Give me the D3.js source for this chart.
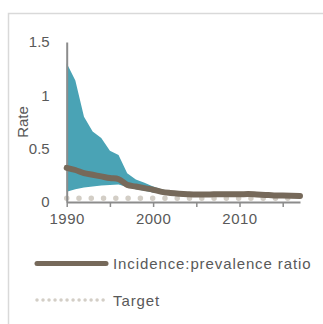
<!DOCTYPE html>
<html><head><meta charset="utf-8">
<script src="https://cdn.jsdelivr.net/npm/d3@7"></script>
<style>
html,body{margin:0;padding:0;background:#fff;}
svg{display:block;}
text{font-family:"Liberation Sans",Arial,sans-serif;fill:#595959;}
</style></head>
<body>
<svg id="c" width="323" height="324"></svg>
<script>
const years = d3.range(1990, 2018);
const ratio = [0.32,0.30,0.27,0.255,0.24,0.225,0.215,0.16,0.145,0.13,0.115,0.095,0.085,0.078,0.073,0.07,0.07,0.072,0.073,0.073,0.073,0.074,0.07,0.066,0.062,0.06,0.058,0.056];
const upper = [1.30,1.14,0.80,0.66,0.60,0.48,0.44,0.27,0.21,0.18,0.145,0.12,0.10,0.085,0.08,0.075,0.074,0.075,0.076,0.076,0.076,0.077,0.073,0.069,0.065,0.063,0.061,0.059];
const lower = [0.095,0.12,0.135,0.145,0.155,0.16,0.165,0.14,0.12,0.105,0.09,0.08,0.07,0.066,0.064,0.064,0.065,0.066,0.067,0.067,0.067,0.068,0.065,0.062,0.058,0.056,0.054,0.052];
const targetYears = d3.range(1990, 2017);
const targetVals = targetYears.map(() => 0.035);
const yTicks = [0, 0.5, 1, 1.5];
const xTickYears = [1990,1995,2000,2005,2010,2015];
const xLabelYears = [1990,2000,2010];
const seriesNames = ["Incidence:prevalence ratio", "Target"];

const svg = d3.select("#c");
svg.append("path").attr("d","M8.5,324 V13.5 H323").attr("fill","none").attr("stroke","#d9d9d9").attr("stroke-width",1.5);

const x = d3.scaleLinear().domain([1990, 2017]).range([66.7, 300]);
const y = d3.scaleLinear().domain([0, 1.5]).range([202, 42]);

const area = d3.area().x((d,i)=>x(years[i])).y0((d,i)=>y(lower[i])).y1((d,i)=>y(upper[i]));
svg.append("path").datum(upper).attr("d", area).attr("fill","#4aa3b5");

const tline = d3.line().x((d,i)=>x(targetYears[i])).y(d=>y(d));
svg.append("path").datum(targetVals).attr("d", tline).attr("fill","none")
  .attr("stroke","#d3cec6").attr("stroke-width",5.5).attr("stroke-linecap","round")
  .attr("stroke-dasharray","0.01 12.27");

const yAxis = d3.axisLeft(y).tickValues(yTicks).tickSize(0).tickPadding(17).tickFormat(d3.format("~g"));
const gy = svg.append("g").attr("transform","translate(66.7,0)").call(yAxis);
gy.select(".domain").attr("stroke","#8c8c8c").attr("stroke-width",2);
gy.selectAll("text").attr("font-size",15).style("font-family","'Liberation Sans',Arial,sans-serif").attr("fill","#595959");

const xAxis = d3.axisBottom(x).tickValues(xTickYears).tickSize(5).tickPadding(6)
  .tickFormat(d => xLabelYears.includes(d) ? d : "").tickSizeOuter(0);
const gx = svg.append("g").attr("transform","translate(0,202)").call(xAxis);
gx.select(".domain").attr("stroke","#8c8c8c").attr("stroke-width",2);
gx.selectAll(".tick line").attr("stroke","#8c8c8c").attr("stroke-width",1.5);
gx.selectAll("text").attr("font-size",15).style("font-family","'Liberation Sans',Arial,sans-serif").attr("fill","#595959").attr("letter-spacing",0.5);

const rline = d3.line().x((d,i)=>x(years[i])).y(d=>y(d)).curve(d3.curveMonotoneX);
svg.append("path").datum(ratio).attr("d", rline).attr("fill","none")
  .attr("stroke","#76695a").attr("stroke-width",6).attr("stroke-linecap","round").attr("stroke-linejoin","round");

svg.append("text").attr("transform","translate(28,122) rotate(-90)").attr("text-anchor","middle")
  .attr("font-size",15).text("Rate");

svg.append("line").attr("x1",37).attr("x2",106).attr("y1",263.5).attr("y2",263.5)
  .attr("stroke","#76695a").attr("stroke-width",5).attr("stroke-linecap","round");
svg.append("text").attr("x",113).attr("y",269).attr("font-size",15).attr("letter-spacing",0.9).text(seriesNames[0]);
svg.append("line").attr("x1",37).attr("x2",106).attr("y1",300).attr("y2",300)
  .attr("stroke","#d3cec6").attr("stroke-width",3.5).attr("stroke-linecap","round").attr("stroke-dasharray","0.01 6");
svg.append("text").attr("x",113).attr("y",305.5).attr("font-size",15).attr("letter-spacing",0.9).text(seriesNames[1]);
</script>
</body></html>
